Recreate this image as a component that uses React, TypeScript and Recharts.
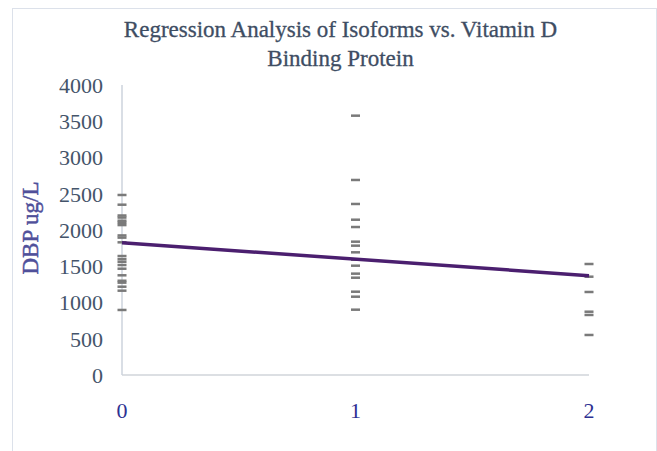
import React from 'react';
import { ScatterChart, Scatter, XAxis, YAxis } from 'recharts';

const isoform0 = [2483, 2349, 2200, 2172, 2128, 2100, 2068, 1925, 1895, 1830, 1641, 1598, 1562, 1517, 1466, 1375, 1300, 1274, 1218, 1163, 897];
const isoform1 = [3577, 2690, 2359, 2142, 2041, 1839, 1784, 1692, 1590, 1508, 1398, 1342, 1149, 1080, 901];
const isoform2 = [1531, 1356, 1145, 873, 828, 552];
const regressionX = [0, 2];
const regressionY = [1825, 1370];
const xTicks = [0, 1, 2];
const yTicks = [0, 500, 1000, 1500, 2000, 2500, 3000, 3500, 4000];

const points = [
  ...isoform0.map((y) => ({ x: 0, y })),
  ...isoform1.map((y) => ({ x: 1, y })),
  ...isoform2.map((y) => ({ x: 2, y })),
];
const regression = regressionX.map((x, i) => ({ x, y: regressionY[i] }));

const Dash = (props: any) => {
  const { cx, cy } = props;
  if (cx == null || cy == null) return null;
  return <rect x={cx - 4.5} y={cy - 1.25} width={9} height={2.5} fill="#7a7a7a" />;
};

const font = '"Liberation Serif", "DejaVu Serif", serif';

export default function App() {
  return (
    <div style={{ position: 'absolute', left: 0, top: 0, width: 657, height: 451, overflow: 'hidden', background: '#fff' }}>
      <div
        style={{
          position: 'absolute',
          left: 12,
          top: 8,
          width: 643,
          height: 460,
          borderTop: '1px solid #dce1ea',
          borderLeft: '1.5px solid #dce1ea',
          borderRight: '1px solid #dce1ea',
        }}
      />
      <div
        style={{
          position: 'absolute',
          left: 0,
          top: 15,
          width: 681,
          textAlign: 'center',
          fontFamily: font,
          fontSize: 23,
          lineHeight: '29px',
          color: '#3e4d63',
          WebkitTextStroke: '0.3px #3e4d63',
        }}
      >
        Regression Analysis of Isoforms vs. Vitamin D
        <br />
        Binding Protein
      </div>
      <div
        style={{
          position: 'absolute',
          left: 31,
          top: 228,
          transform: 'translate(-50%, -50%) rotate(-90deg)',
          whiteSpace: 'nowrap',
          fontFamily: font,
          fontSize: 23,
          color: '#50509a',
          WebkitTextStroke: '0.5px #50509a',
        }}
      >
        DBP ug/L
      </div>
      <div style={{ position: 'absolute', left: 0, top: 0 }}>
        <ScatterChart width={657} height={451} margin={{ top: 85, right: 68, left: 0, bottom: 0 }}>
          <XAxis
            type="number"
            dataKey="x"
            domain={[0, 2]}
            ticks={xTicks}
            height={76}
            tickLine={false}
            tickSize={0}
            tickMargin={27}
            axisLine={{ stroke: '#d0d4da', strokeWidth: 1.5 }}
            tick={{ fill: '#2e3192', fontFamily: font, fontSize: 22 }}
            allowDecimals={false}
          />
          <YAxis
            type="number"
            dataKey="y"
            domain={[0, 4000]}
            ticks={yTicks}
            width={122}
            tickLine={false}
            tickSize={0}
            tickMargin={19}
            axisLine={{ stroke: '#cdd3dd', strokeWidth: 1.5 }}
            tick={{ fill: '#44546a', fontFamily: font, fontSize: 22 }}
            interval={0}
          />
          <Scatter data={points} shape={<Dash />} isAnimationActive={false} />
          <Scatter
            data={regression}
            line={{ stroke: '#4b1f6f', strokeWidth: 3.5 }}
            shape={() => null}
            isAnimationActive={false}
          />
        </ScatterChart>
      </div>
    </div>
  );
}
